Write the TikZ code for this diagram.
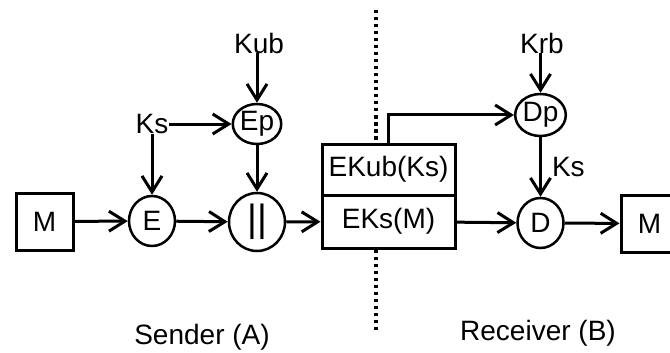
\documentclass[tikz,border=0pt]{standalone}
\usepackage{fontspec}
\setmainfont{Liberation Sans}
\usepackage{tikz}
\usetikzlibrary{shapes.geometric, arrows.meta, positioning}
\tikzset{
  blk/.style={rectangle, draw, line width=3pt, align=center, font=\fontsize{28}{28}\selectfont, inner sep=0pt},
  msg/.style={blk, minimum width=57pt, minimum height=57pt},
  cell/.style={blk, minimum width=133pt},
  op/.style={ellipse, draw, line width=2.5pt, font=\fontsize{28}{28}\selectfont, inner sep=0pt},
  key/.style={font=\fontsize{28}{28}\selectfont, inner sep=0pt},
  lab/.style={font=\fontsize{28}{28}\selectfont, inner sep=0pt},
  arr/.style={-{Straight Barb[length=16pt, width=20pt]}, line width=3pt},
  sep/.style={line width=3.5pt, dash pattern=on 3.5pt off 3.5pt},
}

\begin{document}
\begin{tikzpicture}[x=1pt, y=-1pt]
  \clip (0,0) rectangle (670,353);
  % sender
  \node[msg] (mA) at (44.5,221.5) {M};
  \node[op, minimum width=46pt, minimum height=50pt] (enc) at (152,221) {E};
  \node[op, minimum width=56pt, minimum height=58pt, font=\fontsize{38}{38}\selectfont] (cat) at (257,222) {||};
  \node[op, minimum width=48pt, minimum height=40pt] (ep) at (257,124) {Ep};
  \node[key] (ksA) at (152,124) {Ks};
  \node[key] (kub) at (259,43) {Kub};
  % envelope
  \node[cell, minimum height=51pt] (ekub) at (388.5,169.5) {EKub(Ks)};
  \node[cell, minimum height=53pt] (eks) at (388.5,221.5) {EKs(M)};
  % receiver
  \node[op, minimum width=46pt, minimum height=42pt] (dp) at (540.5,115) {Dp};
  \node[op, minimum width=46pt, minimum height=50pt] (dec) at (540.5,223) {D};
  \node[msg] (mB) at (649.5,223.5) {M};
  \node[key] (krb) at (542,43) {Krb};
  \node[lab] (sndr) at (202,337) {Sender (A)};
  \node[lab] (rcvr) at (538,333) {Receiver (B)};

  \draw[arr] (mA) -- (enc);
  \draw[arr] (enc) -- (cat);
  \draw[arr] (cat) -- (eks);
  \draw[arr] (ksA) -- (ep);
  \draw[arr] (ksA) -- (enc);
  \draw[arr] (kub.south -| ep) -- (ep);
  \draw[arr] (ep) -- (cat);
  \draw[arr] (ekub.north) |- (dp);
  \draw[arr] (krb.south -| dp) -- (dp);
  \draw[arr] (dp) -- (dec) node[key, midway, right=10pt] (ksB) {Ks};
  \draw[arr] (eks) -- (dec);
  \draw[arr] (dec) -- (mB);

  % sender / receiver split
  \coordinate (septop) at (376,10);
  \coordinate (sepbot) at (376,330);
  \draw[sep] (septop) -- (septop |- ekub.north);
  \draw[sep] (eks.south -| sepbot) -- (sepbot);
\end{tikzpicture}
\end{document}
